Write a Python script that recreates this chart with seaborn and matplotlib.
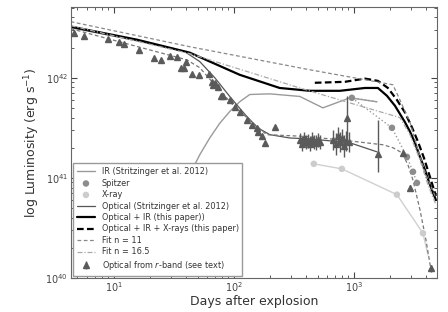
import matplotlib
matplotlib.use("Agg")
import matplotlib.pyplot as plt
import numpy as np
import pandas as pd
import seaborn as sns

# ---- data (days after explosion, luminosity in erg/s) ----
opt_ir_days = [4.39, 15.6, 43, 112, 241, 430, 764, 1235, 1585, 1884, 2197, 2661, 2929, 3223, 3548, 3905, 4300, 4820]
opt_ir_lum = [3.24e42, 2.4e42, 1.78e42, 1.07e42, 7.9e41, 7.4e41, 7.4e41, 7.9e41, 7.9e41, 6.6e41,
              5.25e41, 3.6e41, 2.9e41, 2.24e41, 1.62e41, 1.2e41, 8.5e40, 6.0e40]

opt_ir_x_days = [473, 841, 1235, 1585, 1920, 2282, 2661, 3041, 3414, 3831, 4300, 4820]
opt_ir_x_lum = [8.9e41, 9.1e41, 9.8e41, 9.3e41, 7.9e41, 6.0e41, 4.5e41, 3.2e41, 2.3e41, 1.58e41, 1.02e41, 6.6e40]

fit11_days = [4.39, 43, 430, 2113, 2416, 2929, 3414, 3981, 4820]
fit11_lum = [3.63e42, 2.04e42, 1.2e42, 8.5e41, 6.0e41, 3.6e41, 1.9e41, 1.07e41, 6.3e40]

fit16_days = [4.39, 43, 355, 926, 2416, 2929, 3548, 4138, 4820]
fit16_lum = [3.31e42, 1.74e42, 7.9e41, 5.6e41, 4.0e41, 2.7e41, 1.51e41, 8.5e40, 5.4e40]

fit_opt_days = [4.39, 11.9, 40.6, 52.1, 69.5, 102, 150, 188, 376, 764, 1745, 2113, 2512, 2818, 3105, 3548, 3981, 4385]
fit_opt_lum = [3.09e42, 2.24e42, 1.51e42, 1.26e42, 8.5e41, 5.1e41, 3.4e41, 2.7e41, 2.6e41, 2.4e41,
               2.14e41, 2.0e41, 1.78e41, 1.35e41, 9.5e40, 4.8e40, 2.4e40, 1.2e40]

optical_days = [4.39, 15.6, 39.1, 52.1, 69.5, 92.6, 124, 158, 200, 293, 430, 926, 1555]
optical_lum = [3.16e42, 2.34e42, 1.82e42, 1.45e42, 1.0e42, 6.5e41, 4.3e41, 3.16e41, 2.7e41,
               2.5e41, 2.45e41, 2.24e41, 1.82e41]

ir_days = [39.1, 47.3, 52.1, 63.1, 76.4, 92.6, 112, 136, 200, 355, 552, 926, 1555]
ir_lum = [6.0e40, 1.35e41, 1.7e41, 2.5e41, 3.5e41, 4.6e41, 5.75e41, 6.8e41, 6.9e41, 6.5e41,
          5.0e41, 6.3e41, 5.75e41]

spitzer_days = [962, 2074, 2766, 3105, 3350]
spitzer_lum = [6.3e41, 3.16e41, 1.62e41, 1.15e41, 8.9e40]

xray_days = [464, 794, 2282, 3758]
xray_lum = [1.38e41, 1.23e41, 6.8e40, 2.8e40]
xray_tail_days = [3758, 4138]
xray_tail_lum = [2.8e40, 1.7e40]

rband_days = [4.64, 5.62, 8.91, 11.0, 12.1, 16.2, 21.5, 24.6, 29.3, 33.5, 36.2, 38.3, 39.8,
              44.7, 51.1, 61.9, 69.5, 73.6, 77.9, 65.6, 66.8, 80.9, 92.6, 102, 112, 128,
              141, 155, 158, 171, 181, 220,
              355, 370, 384, 399, 415, 430, 447, 464, 482, 501, 521,
              676, 709, 736, 764, 794, 826, 858, 905,
              874, 1585, 2560, 2929, 4385]
rband_lum = [2.82e42, 2.63e42, 2.45e42, 2.29e42, 2.19e42, 1.91e42, 1.58e42, 1.51e42, 1.66e42,
             1.62e42, 1.26e42, 1.26e42, 1.45e42, 1.1e42, 1.07e42, 1.1e42, 8.9e41, 8.1e41,
             6.6e41, 9.1e41, 8.5e41, 6.5e41, 6.0e41, 5.1e41, 4.5e41, 3.8e41, 3.4e41, 3.16e41,
             2.9e41, 2.6e41, 2.24e41, 3.2e41,
             2.4e41, 2.2e41, 2.5e41, 2.3e41, 2.35e41, 2.2e41, 2.45e41, 2.3e41, 2.25e41, 2.4e41, 2.3e41,
             2.4e41, 2.2e41, 2.6e41, 2.3e41, 2.5e41, 2.1e41, 2.35e41, 2.3e41,
             4.0e41, 1.74e41, 1.78e41, 7.9e40, 1.26e40]
rband_err_lo = [0.0] * 32 + [0.35e41] * 11 + [0.5e41] * 8 + [1.6e41, 0.59e41, 0.1e41, 0.05e41, 0.1e40]
rband_err_hi = [0.0] * 32 + [0.4e41] * 11 + [0.6e41] * 8 + [2.5e41, 2.06e41, 0.1e41, 0.05e41, 0.1e40]


def curve(ax, days, lum, **kw):
    df = pd.DataFrame({"day": days, "lum": lum})
    sns.lineplot(data=df, x="day", y="lum", ax=ax, estimator=None, sort=False, **kw)


def main() -> None:
    sns.set_style("ticks")
    plt.rcParams["font.family"] = ["DejaVu Sans"]
    plt.rcParams["text.color"] = "#333333"
    plt.rcParams["axes.labelcolor"] = "#333333"
    plt.rcParams["xtick.color"] = "#444444"
    plt.rcParams["ytick.color"] = "#444444"

    fig = plt.figure(figsize=(4.48, 3.12), dpi=100)
    ax = fig.add_axes([0.158, 0.109, 0.817, 0.869])
    ax.set_xscale("log")
    ax.set_yscale("log")

    curve(ax, ir_days, ir_lum, color="#9a9a9a", linewidth=1.0, label="IR (Stritzinger et al. 2012)")
    curve(ax, [ir_days[-1]] + spitzer_days, [ir_lum[-1]] + spitzer_lum,
          color="#9a9a9a", linewidth=1.0, linestyle=":")
    sns.scatterplot(x=spitzer_days, y=spitzer_lum, ax=ax, color="#8c8c8c", s=22,
                    edgecolor="none", label="Spitzer", zorder=4)
    curve(ax, xray_days + xray_tail_days[1:], xray_lum + xray_tail_lum[1:],
          color="#d0d0d0", linewidth=1.0)
    sns.scatterplot(x=xray_days, y=xray_lum, ax=ax, color="#cccccc", s=22,
                    edgecolor="none", label="X-ray", zorder=4)
    curve(ax, optical_days, optical_lum, color="#555555", linewidth=0.9,
          label="Optical (Stritzinger et al. 2012)")
    curve(ax, opt_ir_days, opt_ir_lum, color="black", linewidth=1.6,
          label="Optical + IR (this paper))")
    curve(ax, opt_ir_x_days, opt_ir_x_lum, color="black", linewidth=1.6,
          linestyle=(0, (3, 1.5)), label="Optical + IR + X-rays (this paper)")
    curve(ax, fit11_days, fit11_lum, color="#888888", linewidth=0.9,
          linestyle=(0, (3, 2)), label="Fit n = 11")
    curve(ax, fit_opt_days, fit_opt_lum, color="#777777", linewidth=0.9,
          linestyle=(0, (3, 2)))
    curve(ax, fit16_days, fit16_lum, color="#aaaaaa", linewidth=0.9,
          linestyle=(0, (4, 1.5, 1, 1.5)), label="Fit n = 16.5")

    ax.errorbar(rband_days, rband_lum, yerr=[rband_err_lo, rband_err_hi], fmt="^",
                color="#5a5a5a", ms=4.5, elinewidth=1.0, capsize=0,
                label="Optical from $r$-band (see text)", zorder=5)

    ax.set_xlim(4.4, 4900)
    ax.set_ylim(1e40, 5.1e42)
    ax.set_xlabel("Days after explosion", fontsize=9, labelpad=1)
    ax.set_ylabel("log Luminosity (erg s$^{-1}$)", fontsize=9, labelpad=2)
    ax.tick_params(which="both", direction="in", top=True, right=True, labelsize=7)
    ax.tick_params(axis="x", which="both", pad=1.5)
    ax.tick_params(axis="y", which="both", pad=2)
    ax.tick_params(which="major", length=4)
    ax.tick_params(which="minor", length=2)
    for sp in ax.spines.values():
        sp.set_color("#666666")

    order = ["IR (Stritzinger et al. 2012)", "Spitzer", "X-ray",
             "Optical (Stritzinger et al. 2012)", "Optical + IR (this paper))",
             "Optical + IR + X-rays (this paper)", "Fit n = 11", "Fit n = 16.5",
             "Optical from $r$-band (see text)"]
    handles, labels = ax.get_legend_handles_labels()
    lookup = dict(zip(labels, handles))
    leg = ax.legend([lookup[k] for k in order], order, loc="lower left", fontsize=5.9,
                    frameon=True, fancybox=False, framealpha=1, edgecolor="#999999",
                    handlelength=2.2, labelspacing=0.3, borderaxespad=0.3,
                    borderpad=0.45)
    leg.set_zorder(10)

    fig.savefig("out.png", dpi=100)
    plt.close(fig)


if __name__ == "__main__":
    main()
